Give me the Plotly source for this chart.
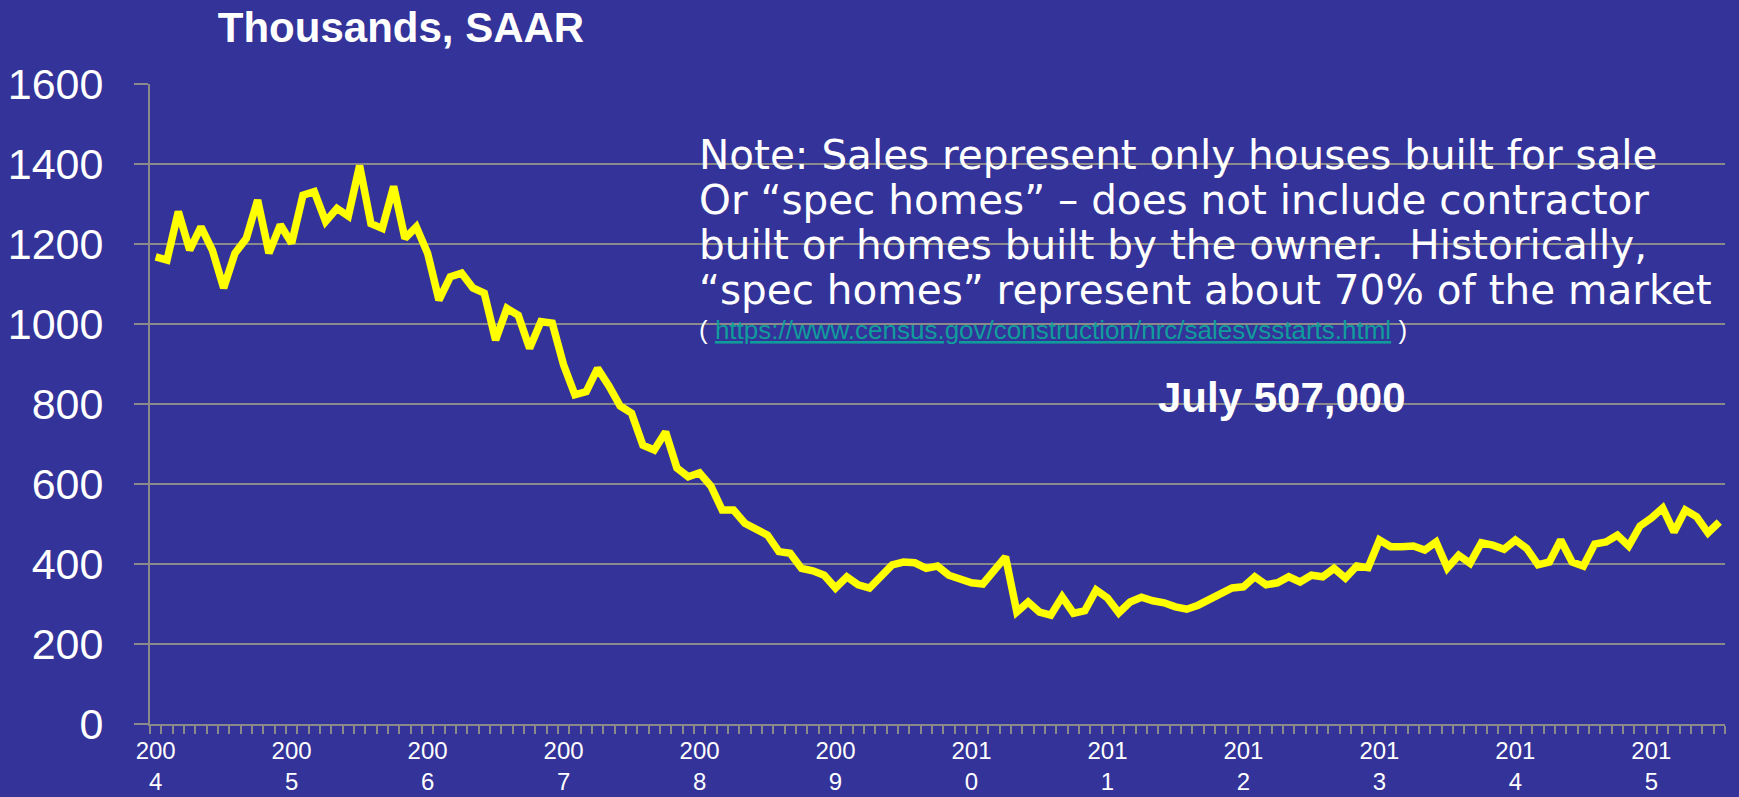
import plotly.graph_objects as go

# New home sales, thousands SAAR, Jan 2004 - Jul 2015
years = list(range(2004, 2016))
sales_2004 = [1168, 1160, 1281, 1185, 1243, 1185, 1090, 1177, 1214, 1310, 1177, 1248]
sales_2005 = [1202, 1322, 1331, 1256, 1289, 1270, 1396, 1251, 1239, 1344, 1214, 1243]
sales_2006 = [1177, 1060, 1118, 1127, 1090, 1077, 960, 1039, 1022, 939, 1006, 1002]
sales_2007 = [898, 823, 831, 889, 845, 795, 777, 697, 685, 730, 640, 618]
sales_2008 = [628, 595, 535, 535, 502, 485, 472, 431, 427, 389, 383, 372]
sales_2009 = [340, 368, 348, 340, 366, 398, 405, 403, 389, 395, 372, 362]
sales_2010 = [353, 350, 385, 418, 280, 305, 280, 272, 318, 277, 283, 335]
sales_2011 = [315, 278, 305, 317, 308, 303, 293, 287, 297, 310, 322, 340]
sales_2012 = [343, 368, 348, 353, 368, 355, 372, 368, 389, 365, 395, 391]
sales_2013 = [460, 443, 443, 445, 435, 455, 390, 422, 402, 453, 447, 437]
sales_2014 = [460, 439, 398, 405, 460, 405, 395, 450, 455, 472, 445, 495]
sales_2015 = [515, 540, 480, 535, 518, 478, 505]

y_ticks = [0, 200, 400, 600, 800, 1000, 1200, 1400, 1600]

note_lines = [
    "Note: Sales represent only houses built for sale",
    "Or \u201cspec homes\u201d \u2013 does not include contractor",
    "built or homes built by the owner.  Historically,",
    "\u201cspec homes\u201d represent about 70% of the market",
]
source_url = "https://www.census.gov/construction/nrc/salesvsstarts.html"
callout = "July 507,000"

sales = (sales_2004 + sales_2005 + sales_2006 + sales_2007 + sales_2008 + sales_2009
         + sales_2010 + sales_2011 + sales_2012 + sales_2013 + sales_2014 + sales_2015)
months = ["{}-{:02d}".format(years[i // 12], i % 12 + 1) for i in range(len(sales))]
# only January gets a label, split like the original "200 / 4"
tick_text = [(m[:3] + "<br>" + m[3]) if m.endswith("-01") else "" for m in months]

# --- style constants ---
BG = "#333399"
GRID = "#8a8a8a"
YELLOW = "#FFFF00"
TEAL = "#119c9c"
FONT = "Arial, Liberation Sans, sans-serif"

FIG_W, FIG_H = 1739, 797
M_L, M_R, M_T, M_B = 150, 14, 84, 73
PLOT_W = FIG_W - M_L - M_R
PLOT_H = FIG_H - M_T - M_B

NOTE_X = 697
NOTE_Y0 = 155      # centre of the first note line, px from top
NOTE_STEP = 45
URL_Y = 330
CALLOUT_Y = 397


def px_x(x):
    return (x - M_L) / PLOT_W


def px_y(y):
    return (FIG_H - M_B - y) / PLOT_H


trace = go.Scatter(
    x=months,
    y=sales,
    mode="lines",
    line=dict(color=YELLOW, width=7.5),
    hoverinfo="x+y",
)

fig = go.Figure(trace)

annotations = []
for n, line in enumerate(note_lines):
    annotations.append(dict(
        xref="paper", yref="paper",
        x=px_x(NOTE_X), y=px_y(NOTE_Y0 + n * NOTE_STEP),
        xanchor="left", yanchor="middle", align="left",
        text=line,
        showarrow=False,
        font=dict(family="DejaVu Sans", size=40.5, color="white"),
    ))

annotations.append(dict(
    xref="paper", yref="paper",
    x=px_x(NOTE_X), y=px_y(URL_Y),
    xanchor="left", yanchor="middle",
    text="( <span style='color:{}'><u>{}</u></span> )".format(TEAL, source_url),
    showarrow=False,
    font=dict(family=FONT, size=26, color="white"),
))
annotations.append(dict(
    xref="paper", yref="paper",
    x=px_x(1282), y=px_y(CALLOUT_Y),
    xanchor="center", yanchor="middle",
    text="<b>{}</b>".format(callout),
    showarrow=False,
    font=dict(family=FONT, size=42, color="white"),
))

fig.update_layout(
    width=FIG_W,
    height=FIG_H,
    autosize=False,
    paper_bgcolor=BG,
    plot_bgcolor=BG,
    margin=dict(l=M_L, r=M_R, t=M_T, b=M_B),
    showlegend=False,
    title=dict(
        text="<b>Thousands, SAAR</b>",
        x=401 / FIG_W, xanchor="center",
        y=1 - 27 / FIG_H, yanchor="middle",
        font=dict(family=FONT, size=42, color="white"),
    ),
    annotations=annotations,
    xaxis=dict(
        type="category",
        tickmode="array",
        tickvals=months,
        ticktext=tick_text,
        tickson="boundaries",
        tickangle=0,
        ticks="outside",
        ticklen=8,
        tickwidth=2,
        tickcolor=GRID,
        showgrid=False,
        showline=True,
        linecolor=GRID,
        linewidth=2,
        tickfont=dict(family=FONT, size=24, color="white"),
        ticklabelstandoff=4,
        automargin=False,
        range=[-0.5, len(months) - 0.5],
    ),
    yaxis=dict(
        range=[0, 1600],
        tickvals=y_ticks,
        ticks="outside",
        ticklen=14,
        tickwidth=2,
        tickcolor=GRID,
        showgrid=True,
        gridcolor=GRID,
        gridwidth=2,
        showline=True,
        linecolor=GRID,
        linewidth=2,
        zeroline=False,
        tickfont=dict(family=FONT, size=43, color="white"),
        ticklabelstandoff=22,
        automargin=False,
    ),
)

# drop the browser's default body margin so the figure fills the window
fig.write_html(
    "out.html",
    config={"displayModeBar": False},
    post_script="document.body.style.margin='0px';",
)
